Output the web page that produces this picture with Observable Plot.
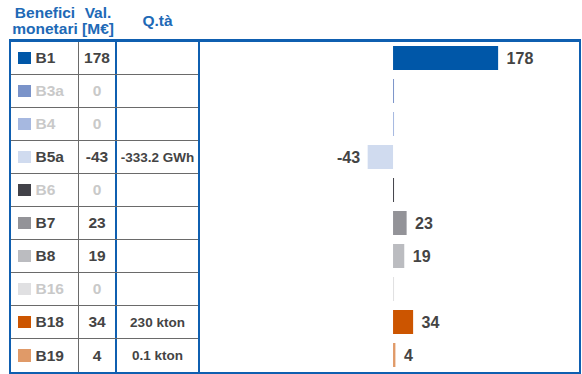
<!DOCTYPE html>
<html>
<head>
<meta charset="utf-8">
<script src="https://cdn.jsdelivr.net/npm/d3@7"></script>
<script src="https://cdn.jsdelivr.net/npm/@observablehq/plot@0.6"></script>
<style>
  html, body { margin: 0; padding: 0; background: #fff; }
  #wrap { position: relative; width: 582px; height: 374px; font-family: "Liberation Sans", Arial, sans-serif; overflow: hidden; }
  #hdr { position: absolute; left: 11px; top: 3px; height: 36px; display: flex; }
  #hdr div { display: flex; align-items: center; justify-content: center; text-align: center; color: #2069b6; font-weight: bold; font-size: 15.5px; line-height: 16px; }
  #frame { position: absolute; left: 9px; top: 39px; width: 572px; height: 335px; box-sizing: border-box;
           border-top: 3px solid #0f5fb0; border-left: 2px solid #0f5fb0; border-right: 2px solid #0f5fb0; border-bottom: 2px solid #0f5fb0; display: flex; }
  #tbl { width: 187px; height: 330px; }
  .row { display: flex; height: 33px; box-sizing: border-box; border-bottom: 1px solid #6a6a6a; }
  .row:last-child { border-bottom: none; }
  .c1 { width: 68px; box-sizing: border-box; border-right: 1px solid #6a6a6a; display: flex; align-items: center; padding-left: 7px; font-weight: bold; font-size: 15.5px; }
  .c2 { width: 38px; box-sizing: border-box; border-right: 2px solid #0f5fb0; display: flex; align-items: center; justify-content: center; font-weight: bold; font-size: 15.5px; }
  .c3 { width: 81px; box-sizing: border-box; display: flex; align-items: center; justify-content: center; font-weight: bold; font-size: 13.5px; color: #444; }
  .sw { width: 12.5px; height: 12.5px; margin-right: 5px; flex: none; }
  #chart { width: 379px; height: 330px; border-left: 2px solid #0f5fb0; }
  #chart svg { display: block; }
</style>
</head>
<body>
<div id="wrap">
  <div id="hdr"></div>
  <div id="frame">
    <div id="tbl"></div>
    <div id="chart"></div>
  </div>
</div>
<script>
const headers = ["Benefici<br>monetari", "Val.<br>[M€]", "Q.tà"];
const names = ["B1", "B3a", "B4", "B5a", "B6", "B7", "B8", "B16", "B18", "B19"];
const values = [178, 0, 0, -43, 0, 23, 19, 0, 34, 4];
const quantities = ["", "", "", "-333.2 GWh", "", "", "", "", "230 kton", "0.1 kton"];
const colors = ["#0057a8", "#7a93c9", "#a6b8e0", "#d0dbef", "#424249", "#939398", "#bbbcc0", "#e0e0e2", "#cc5500", "#e09a68"];

const rows = names.map((name, i) => ({name, value: values[i], qty: quantities[i], color: colors[i]}));

// header
const hdr = document.getElementById("hdr");
const hw = [68, 38, 81];
headers.forEach((h, i) => {
  const d = document.createElement("div");
  d.style.width = hw[i] + "px";
  d.innerHTML = h;
  hdr.appendChild(d);
});

// table
const tbl = document.getElementById("tbl");
rows.forEach(r => {
  const zero = r.value === 0;
  const txt = zero ? "#c9c9c9" : "#444";
  const row = document.createElement("div");
  row.className = "row";
  row.innerHTML = `<div class="c1" style="color:${txt}"><span class="sw" style="background:${r.color}"></span>${r.name}</div>` +
                  `<div class="c2" style="color:${txt}">${r.value}</div>` +
                  `<div class="c3">${r.qty}</div>`;
  tbl.appendChild(row);
});

const nonzero = rows.filter(d => d.value !== 0);
const zeros = rows.filter(d => d.value === 0);
const pos = rows.filter(d => d.value > 0);
const neg = rows.filter(d => d.value < 0);

const chart = Plot.plot({
  width: 379,
  height: 330,
  margin: 0,
  x: {domain: [-327, 315], axis: null},
  y: {domain: names, axis: null, paddingInner: 0.27, paddingOuter: 0.135},
  color: {type: "identity"},
  style: {fontFamily: "Liberation Sans, Arial, sans-serif", background: "transparent"},
  marks: [
    Plot.barX(nonzero, {x: "value", y: "name", fill: "color"}),
    Plot.tickX(zeros, {x: "value", y: "name", stroke: "color", strokeWidth: 1}),
    Plot.text(pos, {x: "value", y: "name", text: d => String(d.value), textAnchor: "start", dx: 8, fontSize: 16, fontWeight: "bold", fill: "#444"}),
    Plot.text(neg, {x: "value", y: "name", text: d => String(d.value), textAnchor: "end", dx: -8, fontSize: 16, fontWeight: "bold", fill: "#444"})
  ]
});
document.getElementById("chart").appendChild(chart);
</script>
</body>
</html>
